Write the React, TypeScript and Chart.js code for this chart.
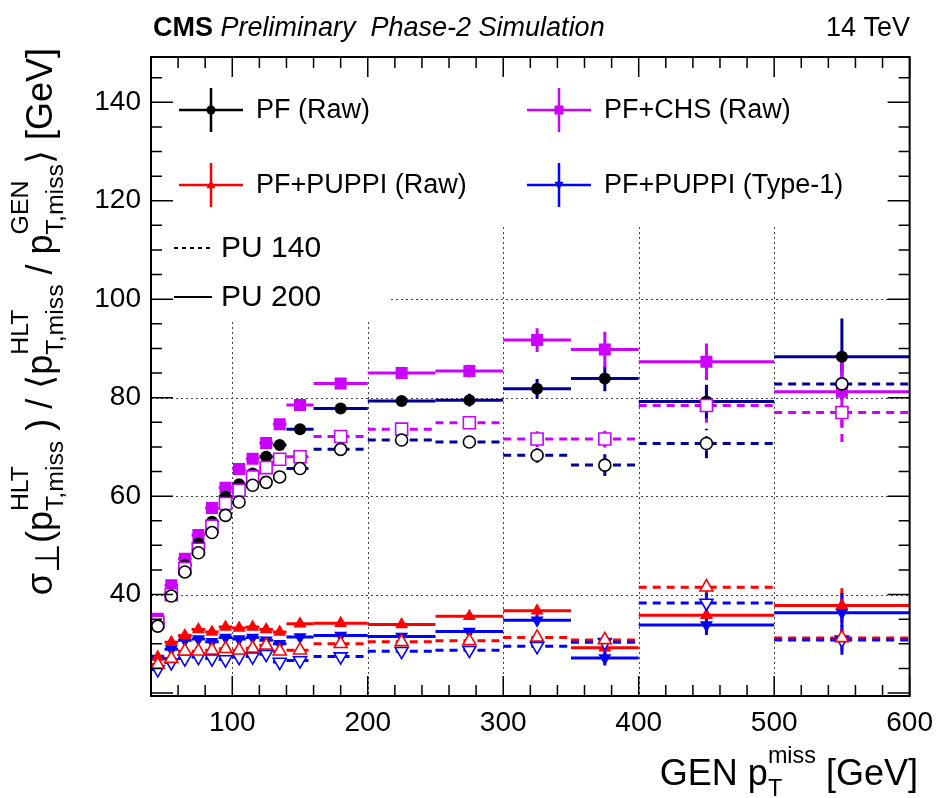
import React, { useEffect, useRef } from 'react';
import { Chart, registerables } from 'chart.js';

Chart.register(...registerables);

// ---------------- data ----------------
const binCenters = [45, 55, 65, 75, 85, 95, 105, 115, 125, 135, 150, 180, 225, 275, 325, 375, 450, 550];
const binHalfWidths = [5, 5, 5, 5, 5, 5, 5, 5, 5, 5, 10, 20, 25, 25, 25, 25, 50, 50];

const pfPU200 = [34.2, 40.3, 46.0, 50.4, 54.8, 59.9, 62.4, 64.6, 68.0, 70.4, 73.6, 77.8, 79.3, 79.5, 81.8, 83.9, 79.2, 88.3];
const pfPU200Err = [0.4, 0.4, 0.4, 0.4, 0.4, 0.4, 0.5, 0.5, 0.5, 0.5, 0.5, 0.6, 0.7, 1.3, 2.0, 2.6, 3.4, 7.8];
const pfPU140 = [33.6, 39.7, 44.6, 48.5, 52.6, 56.1, 58.8, 62.2, 62.8, 63.9, 65.6, 69.5, 71.4, 71.0, 68.3, 66.3, 70.7, 82.8];
const pfPU140Err = [0.4, 0.4, 0.4, 0.4, 0.4, 0.4, 0.5, 0.5, 0.5, 0.5, 0.5, 0.6, 0.7, 1.0, 1.5, 2.2, 3.0, 6.0];

const chsPU200 = [35.1, 41.9, 47.3, 52.1, 57.6, 61.7, 65.5, 67.6, 70.8, 74.6, 78.5, 82.9, 85.0, 85.4, 91.7, 89.8, 87.3, 81.2];
const chsPU200Err = [0.4, 0.4, 0.4, 0.4, 0.4, 0.5, 0.5, 0.5, 0.5, 0.5, 0.6, 0.6, 0.7, 1.3, 2.4, 3.6, 3.7, 7.0];
const chsPU140 = [34.4, 40.0, 45.3, 49.2, 53.9, 58.5, 61.2, 63.9, 65.8, 67.5, 68.0, 72.1, 73.6, 74.9, 71.6, 71.6, 78.4, 77.0];
const chsPU140Err = [0.4, 0.4, 0.4, 0.4, 0.4, 0.4, 0.5, 0.5, 0.5, 0.5, 0.5, 0.6, 0.7, 1.0, 1.6, 1.7, 3.5, 6.0];

const puppiPU200 = [27.3, 30.3, 31.7, 32.9, 32.4, 33.4, 33.2, 33.4, 32.9, 32.4, 34.1, 34.2, 33.9, 35.6, 36.7, 29.2, 35.8, 37.8];
const puppiPU200Err = [0.3, 0.3, 0.3, 0.3, 0.3, 0.3, 0.3, 0.3, 0.3, 0.3, 0.3, 0.3, 0.4, 0.6, 1.0, 1.5, 1.5, 3.5];
const puppiPU140 = [25.8, 27.0, 28.5, 28.5, 28.7, 29.0, 28.7, 29.1, 29.7, 28.5, 28.7, 30.0, 30.4, 30.6, 31.3, 30.8, 41.5, 31.2];
const puppiPU140Err = [0.3, 0.3, 0.3, 0.3, 0.3, 0.3, 0.3, 0.3, 0.3, 0.3, 0.3, 0.3, 0.4, 0.5, 0.8, 1.2, 1.5, 2.5];

const type1PU200 = [27.0, 28.9, 30.7, 31.0, 30.4, 31.3, 31.0, 31.3, 30.7, 30.0, 31.4, 31.7, 31.5, 32.5, 34.8, 27.1, 33.8, 36.3];
const type1PU200Err = [0.3, 0.3, 0.3, 0.3, 0.3, 0.3, 0.3, 0.3, 0.3, 0.3, 0.3, 0.3, 0.4, 0.6, 1.0, 1.5, 2.0, 4.0];
const type1PU140 = [24.8, 26.2, 27.0, 27.3, 27.0, 26.8, 27.3, 27.4, 27.9, 26.3, 26.6, 27.4, 28.5, 28.7, 29.5, 30.3, 38.3, 30.8];
const type1PU140Err = [0.3, 0.3, 0.3, 0.3, 0.3, 0.3, 0.3, 0.3, 0.3, 0.3, 0.3, 0.3, 0.4, 0.5, 0.8, 1.2, 2.0, 3.0];

const xTickValues = [100, 200, 300, 400, 500, 600];
const yTickValues = [40, 60, 80, 100, 120, 140];
const xGridValues = [100, 200, 300, 400, 500];
const yGridValues = [40, 60, 80, 100, 120, 140];

const legendEntries = ['PF (Raw)', 'PF+CHS (Raw)', 'PF+PUPPI (Raw)', 'PF+PUPPI (Type-1)'];
const puLabels = ['PU 140', 'PU 200'];

// ---------------- style ----------------
const FONT = '"Liberation Sans", Arial, Helvetica, sans-serif';
const NAVY = '#000099';
const MAGENTA = '#cc00ff';
const RED = '#ff0000';
const BLUE = '#0000ff';

type Seg = { t?: string; base?: string; sup?: string; sub?: string; scale?: number; drop?: number };

function drawRich(ctx: CanvasRenderingContext2D, segs: Seg[], x: number, y: number, size: number, scale: number, rise: number, drop: number, draw: boolean): number {
  let cx = x;
  for (const s of segs) {
    if (s.t !== undefined) {
      ctx.font = `${size}px ${FONT}`;
      if (draw) ctx.fillText(s.t, cx, y);
      cx += ctx.measureText(s.t).width;
    } else {
      ctx.font = `${size}px ${FONT}`;
      const b = s.base || '';
      if (b) {
        if (draw) ctx.fillText(b, cx, y);
        cx += ctx.measureText(b).width;
      }
      const ss = size * (s.scale || scale);
      ctx.font = `${ss}px ${FONT}`;
      let w = 0;
      if (s.sup) {
        if (draw) ctx.fillText(s.sup, cx, y - size * rise);
        w = Math.max(w, ctx.measureText(s.sup).width);
      }
      if (s.sub) {
        if (draw) ctx.fillText(s.sub, cx, y + size * (s.drop !== undefined ? s.drop : drop));
        w = Math.max(w, ctx.measureText(s.sub).width);
      }
      cx += w;
    }
  }
  return cx - x;
}

function drawMarker(ctx: CanvasRenderingContext2D, style: string, x: number, y: number, r: number, color: string) {
  ctx.beginPath();
  if (style === 'circle') {
    ctx.arc(x, y, r, 0, Math.PI * 2);
  } else if (style === 'rect') {
    ctx.rect(x - r, y - r, 2 * r, 2 * r);
  } else if (style === 'up') {
    ctx.moveTo(x, y - r * 1.1);
    ctx.lineTo(x + r, y + r * 0.7);
    ctx.lineTo(x - r, y + r * 0.7);
    ctx.closePath();
  } else {
    ctx.moveTo(x, y + r * 1.1);
    ctx.lineTo(x + r, y - r * 0.7);
    ctx.lineTo(x - r, y - r * 0.7);
    ctx.closePath();
  }
  ctx.fillStyle = color;
  ctx.fill();
}

function makeSet(label: string, ys: number[], errs: number[], lineColor: string, markerColor: string, dashed: boolean, style: string, rotation: number, radius: number) {
  const open = dashed;
  return {
    label,
    data: binCenters.map((x, i) => ({ x, y: ys[i] })),
    yErr: errs,
    xErr: binHalfWidths,
    lineColor,
    dashed,
    pointStyle: style,
    pointRotation: rotation,
    pointRadius: radius,
    pointHoverRadius: radius,
    pointBorderWidth: open ? 1.6 : 0,
    pointBackgroundColor: open ? '#ffffff' : markerColor,
    pointBorderColor: markerColor,
    backgroundColor: open ? '#ffffff' : markerColor,
    borderColor: markerColor,
    showLine: false,
  };
}

const gridPlugin = {
  id: 'gridAndBoxes',
  beforeDatasetsDraw(chart: any) {
    const { ctx, chartArea: a, scales } = chart;
    const xs = scales.x, ys = scales.y;
    ctx.save();
    ctx.strokeStyle = '#444';
    ctx.lineWidth = 1;
    ctx.setLineDash([2, 3]);
    for (const v of xGridValues) {
      const px = Math.round(xs.getPixelForValue(v)) + 0.5;
      ctx.beginPath();
      ctx.moveTo(px, a.top);
      ctx.lineTo(px, a.bottom);
      ctx.stroke();
    }
    for (const v of yGridValues) {
      const py = Math.round(ys.getPixelForValue(v)) + 0.5;
      ctx.beginPath();
      ctx.moveTo(a.left, py);
      ctx.lineTo(a.right, py);
      ctx.stroke();
    }
    ctx.setLineDash([]);
    ctx.fillStyle = '#ffffff';
    ctx.fillRect(a.left + 1, a.top + 1, a.right - a.left - 2, 223 - a.top);
    ctx.fillRect(a.left + 1, 222, 390 - a.left, 322 - 222);
    ctx.restore();
  },
};

const errorBarPlugin = {
  id: 'errorBars',
  beforeDatasetsDraw(chart: any) {
    const { ctx, chartArea: a, scales } = chart;
    const xs = scales.x, ys = scales.y;
    ctx.save();
    ctx.beginPath();
    ctx.rect(a.left, a.top, a.right - a.left, a.bottom - a.top);
    ctx.clip();
    chart.data.datasets.forEach((ds: any) => {
      ctx.strokeStyle = ds.lineColor;
      ctx.lineWidth = 3;
      ctx.setLineDash(ds.dashed ? [8, 6] : []);
      ds.data.forEach((p: any, i: number) => {
        const px = xs.getPixelForValue(p.x);
        const py = ys.getPixelForValue(p.y);
        const x0 = xs.getPixelForValue(p.x - ds.xErr[i]);
        const x1 = xs.getPixelForValue(p.x + ds.xErr[i]);
        const y0 = ys.getPixelForValue(p.y - ds.yErr[i]);
        const y1 = ys.getPixelForValue(p.y + ds.yErr[i]);
        ctx.beginPath();
        ctx.moveTo(x0, py);
        ctx.lineTo(x1, py);
        ctx.stroke();
        ctx.beginPath();
        ctx.moveTo(px, y0);
        ctx.lineTo(px, y1);
        ctx.stroke();
      });
    });
    ctx.restore();
  },
};

const decorPlugin = {
  id: 'decor',
  afterDatasetsDraw(chart: any) {
    const { ctx, chartArea: a, scales } = chart;
    const xs = scales.x, ys = scales.y;
    ctx.save();
    // frame
    ctx.strokeStyle = '#000';
    ctx.lineWidth = 2;
    ctx.strokeRect(a.left, a.top, a.right - a.left, a.bottom - a.top);
    // ticks
    ctx.lineWidth = 1.5;
    for (let v = 40; v <= 600; v += 20) {
      const px = xs.getPixelForValue(v);
      const len = v % 100 === 0 ? 20 : 11;
      ctx.beginPath();
      ctx.moveTo(px, a.bottom);
      ctx.lineTo(px, a.bottom - len);
      ctx.moveTo(px, a.top);
      ctx.lineTo(px, a.top + len);
      ctx.stroke();
    }
    for (let v = 20; v <= 145; v += 5) {
      const py = ys.getPixelForValue(v);
      const len = v % 20 === 0 ? 22 : 11;
      ctx.beginPath();
      ctx.moveTo(a.left, py);
      ctx.lineTo(a.left + len, py);
      ctx.moveTo(a.right, py);
      ctx.lineTo(a.right - len, py);
      ctx.stroke();
    }

    // legend
    const ents = [
      { text: legendEntries[0], color: '#000', style: 'circle', cx: 211, cy: 110 },
      { text: legendEntries[1], color: MAGENTA, style: 'rect', cx: 559, cy: 110 },
      { text: legendEntries[2], color: RED, style: 'up', cx: 211, cy: 185 },
      { text: legendEntries[3], color: BLUE, style: 'down', cx: 559, cy: 185 },
    ];
    for (const e of ents) {
      ctx.strokeStyle = e.color;
      ctx.lineWidth = 2.5;
      ctx.beginPath();
      ctx.moveTo(e.cx - 32, e.cy);
      ctx.lineTo(e.cx + 32, e.cy);
      ctx.moveTo(e.cx, e.cy - 22);
      ctx.lineTo(e.cx, e.cy + 22);
      ctx.stroke();
      drawMarker(ctx, e.style, e.cx, e.cy, 4.5, e.color);
      ctx.fillStyle = '#000';
      ctx.font = `27px ${FONT}`;
      ctx.textBaseline = 'middle';
      ctx.textAlign = 'left';
      ctx.fillText(e.text, e.cx + 45, e.cy + 1);
    }
    // PU legend
    ctx.strokeStyle = '#000';
    ctx.lineWidth = 2;
    ctx.setLineDash([4, 4]);
    ctx.beginPath();
    ctx.moveTo(174, 248);
    ctx.lineTo(210, 248);
    ctx.stroke();
    ctx.setLineDash([]);
    ctx.beginPath();
    ctx.moveTo(174, 297);
    ctx.lineTo(212, 297);
    ctx.stroke();
    ctx.font = `30px ${FONT}`;
    ctx.fillText(puLabels[0], 221, 249);
    ctx.fillText(puLabels[1], 221, 298);
    ctx.restore();
  },
  afterDraw(chart: any) {
    const { ctx } = chart;
    ctx.save();
    ctx.fillStyle = '#000';
    ctx.textBaseline = 'alphabetic';
    ctx.textAlign = 'left';
    // header
    ctx.font = `bold 27px ${FONT}`;
    ctx.fillText('CMS', 153, 36);
    const wc = ctx.measureText('CMS').width;
    ctx.font = `italic 27px ${FONT}`;
    ctx.fillText(' Preliminary  Phase-2 Simulation', 153 + wc, 36);
    ctx.font = `27px ${FONT}`;
    ctx.textAlign = 'right';
    ctx.fillText('14 TeV', 910, 36);
    ctx.textAlign = 'left';

    // x title
    const xSegs: Seg[] = [{ t: 'GEN ' }, { base: 'p', sup: 'miss', sub: 'T' }, { t: ' [GeV]' }];
    const xw = drawRich(ctx, xSegs, 0, 0, 36, 0.65, 0.6, 0.3, false);
    drawRich(ctx, xSegs, 918 - xw, 785, 36, 0.65, 0.6, 0.3, true);

    // y title
    const ySegs: Seg[] = [
      { t: 'σ' },
      { base: '', sub: '⊥', scale: 0.95, drop: 0.2 },
      { t: '(' },
      { base: 'p', sup: 'HLT', sub: 'T,miss' },
      { t: ' ) / ⟨' },
      { base: 'p', sup: 'HLT', sub: 'T,miss' },
      { t: ' / ' },
      { base: 'p', sup: 'GEN', sub: 'T,miss' },
      { t: '⟩ [GeV]' },
    ];
    const yw = drawRich(ctx, ySegs, 0, 0, 36, 0.69, 0.66, 0.3, false);
    ctx.translate(52, 48);
    ctx.rotate(-Math.PI / 2);
    drawRich(ctx, ySegs, -yw, 0, 36, 0.69, 0.66, 0.3, true);
    ctx.restore();
  },
};

export default function App() {
  const ref = useRef<HTMLCanvasElement | null>(null);
  useEffect(() => {
    if (!ref.current) return;
    const datasets = [
      makeSet('PF (Raw) PU 140', pfPU140, pfPU140Err, NAVY, '#000000', true, 'circle', 0, 6),
      makeSet('PF+CHS (Raw) PU 140', chsPU140, chsPU140Err, MAGENTA, MAGENTA, true, 'rect', 0, 8.5),
      makeSet('PF+PUPPI (Raw) PU 140', puppiPU140, puppiPU140Err, RED, RED, true, 'triangle', 0, 7.5),
      makeSet('PF+PUPPI (Type-1) PU 140', type1PU140, type1PU140Err, BLUE, BLUE, true, 'triangle', 180, 7.5),
      makeSet('PF (Raw) PU 200', pfPU200, pfPU200Err, NAVY, '#000000', false, 'circle', 0, 6),
      makeSet('PF+CHS (Raw) PU 200', chsPU200, chsPU200Err, MAGENTA, MAGENTA, false, 'rect', 0, 8.5),
      makeSet('PF+PUPPI (Raw) PU 200', puppiPU200, puppiPU200Err, RED, RED, false, 'triangle', 0, 7.5),
      makeSet('PF+PUPPI (Type-1) PU 200', type1PU200, type1PU200Err, BLUE, BLUE, false, 'triangle', 180, 7.5),
    ];
    const chart = new Chart(ref.current, {
      type: 'scatter',
      data: { datasets: datasets as any },
      options: {
        animation: false,
        responsive: false,
        devicePixelRatio: 1,
        layout: { padding: { top: 57, right: 28, left: 0, bottom: 0 } },
        plugins: { legend: { display: false }, tooltip: { enabled: false } },
        scales: {
          x: {
            type: 'linear',
            min: 40,
            max: 600,
            afterBuildTicks: (s: any) => { s.ticks = xTickValues.map((v) => ({ value: v })); },
            afterFit: (s: any) => { s.height = 102; },
            grid: { display: false, drawTicks: false },
            border: { display: false },
            ticks: { color: '#000', font: { size: 28, family: FONT }, padding: 10, maxRotation: 0, autoSkip: false },
          },
          y: {
            type: 'linear',
            min: 19.4,
            max: 149.2,
            afterBuildTicks: (s: any) => { s.ticks = yTickValues.map((v) => ({ value: v })); },
            afterFit: (s: any) => { s.width = 151; },
            grid: { display: false, drawTicks: false },
            border: { display: false },
            ticks: { color: '#000', font: { size: 28, family: FONT }, padding: 10, autoSkip: false },
          },
        },
      },
      plugins: [gridPlugin, errorBarPlugin, decorPlugin],
    });
    return () => chart.destroy();
  }, []);
  return (
    <div style={{ position: 'fixed', left: 0, top: 0, width: 943, height: 798, background: '#fff' }}>
      <canvas ref={ref} width={943} height={798} style={{ width: 943, height: 798, display: 'block' }} />
    </div>
  );
}
